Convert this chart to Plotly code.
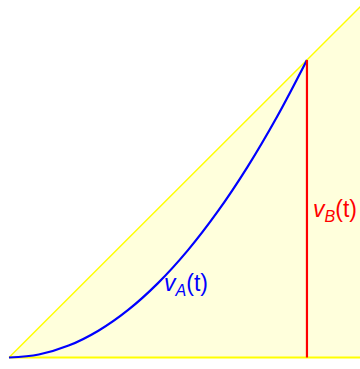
import plotly.graph_objects as go

# t values and the curves (units: t = 1 at the red line)
t_diag = [0, 1.2]
v_diag = [0, 1.2]
t_base = [0, 1.2]
v_base = [0, 0]
t_a = [0, 0.1, 0.2, 0.3, 0.4, 0.5, 0.6, 0.7, 0.8, 0.9, 1.0]
v_a = [0, 0.01, 0.04, 0.09, 0.16, 0.25, 0.36, 0.49, 0.64, 0.81, 1.0]
t_b = [1.0, 1.0]
v_b = [0, 1.0]

fig = go.Figure()

# shaded triangle under v = t
fig.add_trace(go.Scatter(x=t_diag, y=v_diag, mode="lines", fill="tozeroy",
                         fillcolor="#FFFFDC", line=dict(color="#FFFF00", width=1.5),
                         hoverinfo="skip"))
fig.add_trace(go.Scatter(x=t_base, y=v_base, mode="lines",
                         line=dict(color="#FFFF00", width=2), hoverinfo="skip"))
fig.add_trace(go.Scatter(x=t_a, y=v_a, mode="lines", line_shape="spline",
                         line=dict(color="#0000FF", width=2.2)))
fig.add_trace(go.Scatter(x=t_b, y=v_b, mode="lines",
                         line=dict(color="#FF0000", width=2.2)))

fig.add_annotation(x=0.515, y=0.245, text="<i>v</i><sub><i>A</i></sub>(t)",
                   showarrow=False, xanchor="left", yanchor="middle",
                   font=dict(color="#0000FF", size=23, family="Liberation Sans"))
fig.add_annotation(x=1.015, y=0.495, text="<i>v</i><sub><i>B</i></sub>(t)",
                   showarrow=False, xanchor="left", yanchor="middle",
                   font=dict(color="#FF0000", size=23, family="Liberation Sans"))

fig.update_layout(
    width=360, height=369,
    margin=dict(l=0, r=0, t=0, b=0),
    plot_bgcolor="white", paper_bgcolor="white",
    showlegend=False,
    xaxis=dict(range=[-0.0302, 1.178], visible=False),
    yaxis=dict(range=[-0.0387, 1.2017], visible=False),
)

# drop the default page margin so the figure sits at the window's corner
fig.write_html("out.html", config={"displayModeBar": False},
               post_script="document.body.style.margin='0';")
